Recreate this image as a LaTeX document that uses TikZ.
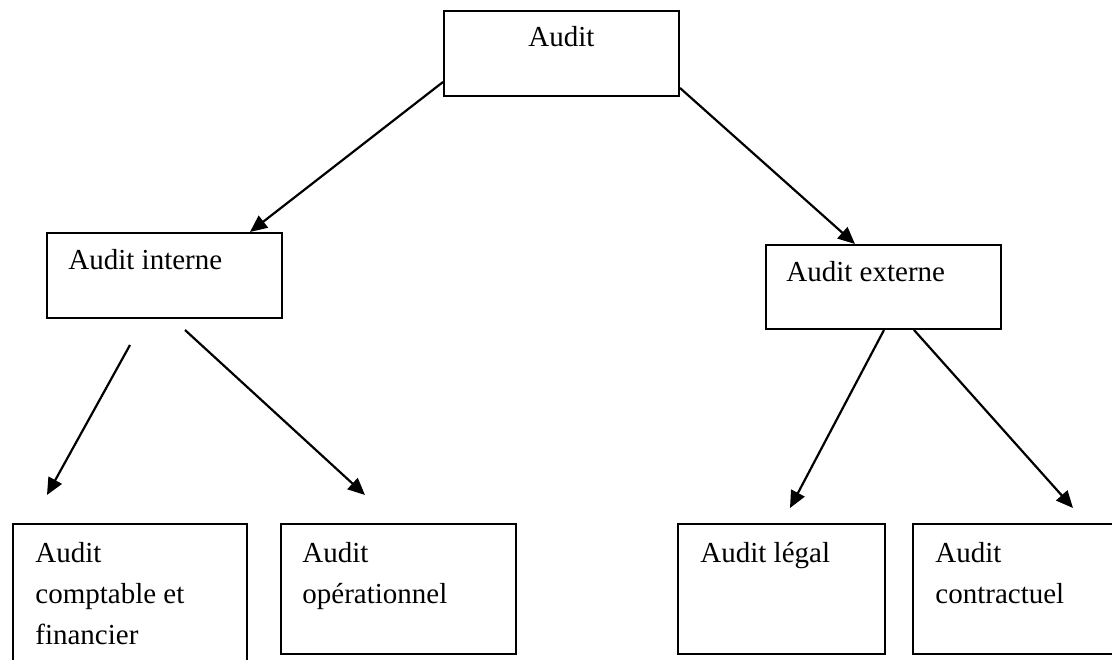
\documentclass[tikz,border=0pt]{standalone}
\usepackage{fontspec}
\setmainfont{Liberation Serif}
\usetikzlibrary{arrows.meta}
\begin{document}
\begin{tikzpicture}[x=0.5pt,y=-0.5pt,
  box/.style={draw, line width=1pt, inner sep=0pt, anchor=north west},
  lbl/.style={inner sep=0pt, anchor=base west, font=\fontsize{14.5}{20.5}\selectfont},
  conn/.style={line width=1.1pt, -{Triangle[length=8.5pt,width=7.5pt]}}]
\useasboundingbox (0,0) rectangle (1112,659);
\clip (0,0) rectangle (1112,659);
% boxes
\node[box, minimum width=117.5pt, minimum height=42.5pt] (top) at (443,10) {};
\node[box, minimum width=117.5pt, minimum height=42.5pt] (int) at (46,232) {};
\node[box, minimum width=117.5pt, minimum height=42pt] (ext) at (765,244) {};
\node[box, minimum width=117pt, minimum height=75pt] (b1) at (12,523) {};
\node[box, minimum width=117.5pt, minimum height=65pt] (b2) at (280,523) {};
\node[box, minimum width=103.5pt, minimum height=65pt] (b3) at (677,523) {};
\node[box, minimum width=105pt, minimum height=65pt] (b4) at (912,523) {};
% labels
\node[lbl] (ttop) at (528,46) {Audit};
\node[lbl] (tint) at (68,269) {Audit interne};
\node[lbl] (text) at (786,281) {Audit externe};
\node[lbl] (tb1) at (35,562) {\begin{tabular}[t]{@{}l@{}}Audit\\comptable et\\financier\end{tabular}};
\node[lbl] (tb2) at (302,562) {\begin{tabular}[t]{@{}l@{}}Audit\\opérationnel\end{tabular}};
\node[lbl] (tb3) at (700,562) {Audit légal};
\node[lbl] (tb4) at (935,562) {\begin{tabular}[t]{@{}l@{}}Audit\\contractuel\end{tabular}};
% connectors
\draw[conn] ([yshift=7.5pt]top.south west) -- ([xshift=-16.5pt]int.north east);
\draw[conn] ([yshift=4.5pt]top.south east) -- ([xshift=45pt]ext.north west);
\draw[conn] ([xshift=42pt,yshift=-13pt]int.south west) -- ([xshift=17.5pt,yshift=14pt]b1.north west);
\draw[conn] ([xshift=69.5pt,yshift=-5.5pt]int.south west) -- ([xshift=42.5pt,yshift=14pt]b2.north west);
\draw[conn] ([xshift=59.5pt]ext.south west) -- ([xshift=56.5pt,yshift=7.5pt]b3.north west);
\draw[conn] ([xshift=74.5pt]ext.south west) -- ([xshift=80.5pt,yshift=7.5pt]b4.north west);
\end{tikzpicture}
\end{document}
